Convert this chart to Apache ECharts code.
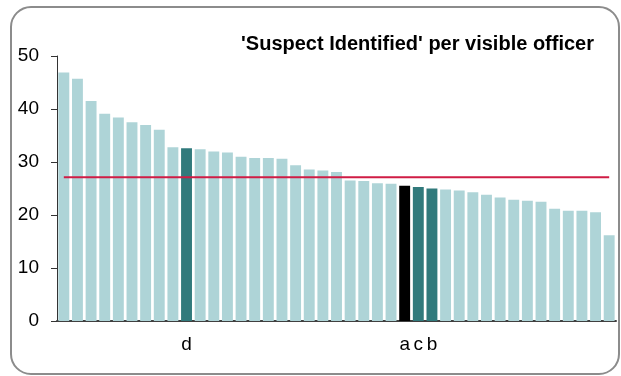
<!DOCTYPE html>
<html>
<head>
<meta charset="utf-8">
<script src="https://cdn.jsdelivr.net/npm/echarts@6/dist/echarts.min.js"></script>
<style>
  html, body { margin: 0; padding: 0; background: #fff; }
  #chart { width: 621px; height: 376px; }
</style>
</head>
<body>
<div id="chart"></div>
<script>
// one bar per officer, sorted high to low
const labels = ['', '', '', '', '', '', '', '', '', 'd',
  '', '', '', '', '', '', '', '', '', '',
  '', '', '', '', '', 'a', 'c', 'b', '', '',
  '', '', '', '', '', '', '', '', '', '', '']
const values = [46.9, 45.7, 41.5, 39.1, 38.4, 37.5, 37.0, 36.1, 32.8, 32.6,
  32.4, 32.0, 31.8, 31.0, 30.75, 30.75, 30.6, 29.4, 28.6, 28.4,
  28.1, 26.5, 26.4, 26.0, 25.9, 25.5, 25.3, 25.0, 24.8, 24.6,
  24.3, 23.8, 23.3, 22.9, 22.7, 22.5, 21.2, 20.8, 20.8, 20.5, 16.2]
const average = 27.1
const yTicks = [0, 10, 20, 30, 40, 50]

const highlight = { a: '#000000', b: '#317a7c', c: '#317a7c', d: '#317a7c' }
const barColor = '#aed4d7'

const barData = values.map((v, i) => ({
  value: v,
  itemStyle: { color: highlight[labels[i]] || barColor }
}))

const chart = echarts.init(document.getElementById('chart'))
chart.setOption({
  animation: false,
  textStyle: { fontFamily: 'Liberation Sans, Arial, sans-serif' },
  grid: { left: 57, right: 5, top: 56, bottom: 55 },
  xAxis: {
    type: 'category',
    data: labels,
    axisLine: { lineStyle: { color: '#404040', width: 2 } },
    axisTick: { show: false },
    axisLabel: { interval: 0, color: '#000', fontSize: 19, margin: 14 }
  },
  yAxis: {
    type: 'value',
    min: yTicks[0],
    max: yTicks[yTicks.length - 1],
    interval: 10,
    splitLine: { show: false },
    axisLine: { show: true, lineStyle: { color: '#333' } },
    axisTick: { show: true, length: 6, lineStyle: { color: '#333' } },
    axisLabel: { color: '#000', fontSize: 19, margin: 18 }
  },
  series: [
    {
      type: 'bar',
      data: barData,
      barCategoryGap: '20%'
    },
    {
      type: 'line',
      data: values.map(() => average),
      symbol: 'none',
      lineStyle: { color: '#d01c45', width: 2 },
      z: 5
    }
  ],
  graphic: [
    {
      type: 'rect',
      shape: { x: 11, y: 7, width: 608, height: 367, r: 20 },
      style: { fill: 'none', stroke: '#8c8c8c', lineWidth: 2 },
      silent: true
    },
    {
      type: 'text',
      x: 594,
      y: 44,
      style: {
        text: "'Suspect Identified' per visible officer",
        align: 'right',
        verticalAlign: 'middle',
        fill: '#000',
        font: 'bold 20px "Liberation Sans", Arial, sans-serif'
      },
      silent: true
    }
  ]
})
</script>
</body>
</html>
